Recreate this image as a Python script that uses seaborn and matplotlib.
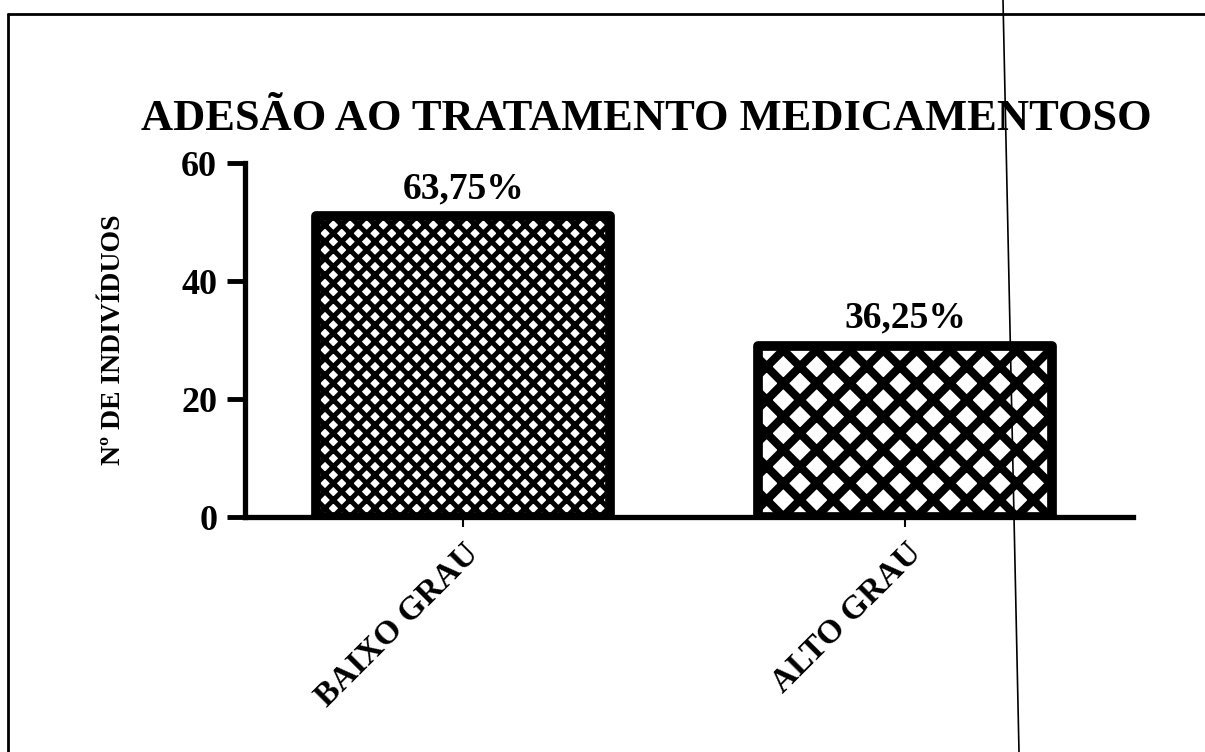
import matplotlib
matplotlib.use("Agg")
import matplotlib.pyplot as plt
import pandas as pd
import seaborn as sns
from matplotlib.lines import Line2D

# Dados
categorias = ['BAIXO GRAU', 'ALTO GRAU']
individuos = [51, 29]
percentuais = ['63,75%', '36,25%']
yticks = [0, 20, 40, 60]

# estilo das barras (hachuras)
hachuras = ['xx', 'x']
hatch_lw = [3.6, 6.0]

sns.set_style('white')
plt.rcParams['font.family'] = ['Liberation Serif', 'DejaVu Serif']
plt.rcParams['font.weight'] = 'bold'
plt.rcParams['hatch.linewidth'] = 3.0
for k in ['text.color', 'axes.labelcolor', 'xtick.color', 'ytick.color', 'axes.edgecolor']:
    plt.rcParams[k] = 'black'

df = pd.DataFrame({'grau': categorias, 'n': individuos})

fig = plt.figure(figsize=(12.05, 7.52), dpi=100)
ax = fig.add_axes([0.2033, 0.3125, 0.737, 0.4707])

sns.barplot(data=df, x='grau', y='n', color='white', saturation=1,
            edgecolor='black', linewidth=7, width=0.665, ax=ax)

for p, h, lw in zip(ax.patches, hachuras, hatch_lw):
    p.set_hatch(h)
    p.set_joinstyle('round')
    if hasattr(p, 'set_hatch_linewidth'):
        p.set_hatch_linewidth(lw)

# percentuais acima das barras
for p, txt in zip(ax.patches, percentuais):
    ax.annotate(txt, (p.get_x() + p.get_width() / 2, p.get_height()),
                xytext=(0, 13), textcoords='offset points',
                ha='center', va='baseline', fontsize=27, fontweight='bold')

ax.set_ylim(0, 60)
ax.set_yticks(yticks)
ax.set_xlim(-0.494, 1.515)
ax.set_xlabel('')
ax.set_ylabel('Nº DE INDIVÍDUOS', fontsize=20, fontweight='bold')
ax.yaxis.set_label_coords(-0.134, 0.5)

sns.despine(ax=ax)
for s in ['left', 'bottom']:
    ax.spines[s].set_linewidth(3.8)
    ax.spines[s].set_color('black')

ax.tick_params(axis='y', direction='out', length=13, width=3.5, pad=7,
               labelsize=26, left=True)
ax.tick_params(axis='x', direction='out', length=7, width=1.5, pad=8,
               labelsize=24, bottom=True)
for lab in ax.get_xticklabels():
    lab.set_rotation(45)
    lab.set_ha('right')
    lab.set_rotation_mode('anchor')
    lab.set_fontweight('bold')
for lab in ax.get_yticklabels():
    lab.set_fontweight('bold')

fig.text(0.536, 1 - 130 / 752, 'ADESÃO AO TRATAMENTO MEDICAMENTOSO',
         ha='center', va='baseline', fontsize=32, fontweight='bold')

# moldura e risco da digitalização
fig.add_artist(Line2D([8 / 1205, 8 / 1205], [0, 1 - 14 / 752],
                      transform=fig.transFigure, color='black', lw=2))
fig.add_artist(Line2D([8 / 1205, 1], [1 - 14 / 752, 1 - 14 / 752],
                      transform=fig.transFigure, color='black', lw=2))
fig.add_artist(Line2D([1003 / 1205, 1019 / 1205], [1, 0],
                      transform=fig.transFigure, color='black', lw=1.2, zorder=10))

fig.savefig('out.png', dpi=100)
